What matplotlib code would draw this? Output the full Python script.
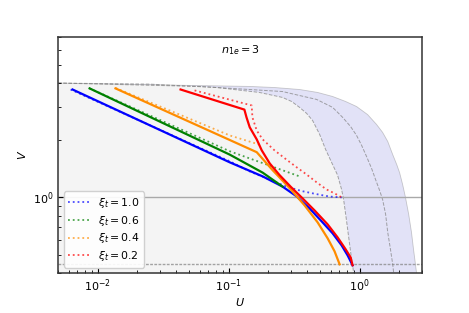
import numpy as np
import matplotlib
matplotlib.use("Agg")
import matplotlib.pyplot as plt

# axis range
U_LIM = (0.005, 3.0)
V_LIM = (0.4, 7.0)
V_LOW = 0.447

# boundaries of the shaded regions
inner_u = [0.005, 0.0249, 0.081, 0.172, 0.258, 0.303, 0.348, 0.394, 0.438, 0.495, 0.550,
           0.611, 0.679, 0.729, 0.755, 0.796, 0.839, 0.869, 0.885, 0.900]
inner_v = [4.0, 3.95, 3.79, 3.57, 3.36, 3.20, 2.98, 2.77, 2.54, 2.15, 1.79,
           1.53, 1.31, 1.10, 0.976, 0.748, 0.566, 0.472, 0.439, 0.4]
mid_u = [0.005, 0.0601, 0.258, 0.348, 0.470, 0.622, 0.742, 0.854, 0.948, 1.036, 1.131,
         1.235, 1.325, 1.42, 1.498, 1.58, 1.64, 1.72, 1.79, 1.82]
mid_v = [4.0, 3.84, 3.61, 3.44, 3.28, 2.98, 2.64, 2.36, 2.12, 1.88, 1.64,
         1.42, 1.24, 1.09, 0.976, 0.814, 0.654, 0.533, 0.444, 0.4]
outer_u = [0.005, 0.0601, 0.145, 0.224, 0.348, 0.478, 0.622, 0.782, 0.948, 1.151, 1.348,
           1.498, 1.64, 1.79, 1.92, 2.02, 2.13, 2.24, 2.37, 2.49, 2.58, 2.67, 2.72]
outer_v = [4.0, 3.88, 3.84, 3.79, 3.70, 3.57, 3.40, 3.20, 3.01, 2.73, 2.42,
           2.20, 1.97, 1.68, 1.49, 1.35, 1.17, 1.0, 0.814, 0.654, 0.533, 0.444, 0.4]

# xi_t = 1.0
blue_u = [0.00644, 0.102, 0.182, 0.258, 0.331, 0.415, 0.513, 0.622, 0.729, 0.810, 0.884]
blue_v = [3.70, 1.53, 1.29, 1.14, 1.012, 0.875, 0.748, 0.647, 0.559, 0.495, 0.439]
blue_dot_u = [0.00622, 0.102, 0.145, 0.277, 0.361, 0.470, 0.590, 0.729]
blue_dot_v = [3.70, 1.55, 1.37, 1.14, 1.08, 1.04, 1.01, 1.0]
# xi_t = 0.6
green_u = [0.00869, 0.102, 0.182, 0.258]
green_v = [3.75, 1.68, 1.35, 1.14]
green_dot_u = [0.00869, 0.102, 0.348]
green_dot_v = [3.75, 1.75, 1.29]
# xi_t = 0.4
orange_u = [0.0137, 0.164, 0.217, 0.292, 0.380, 0.478, 0.570, 0.644, 0.704]
orange_v = [3.75, 1.73, 1.39, 1.12, 0.908, 0.739, 0.609, 0.520, 0.444]
orange_dot_u = [0.0137, 0.102, 0.179]
orange_dot_v = [3.77, 2.12, 1.88]
# xi_t = 0.2
red_u = [0.043, 0.132, 0.137, 0.145, 0.164, 0.179, 0.206, 0.245, 0.297, 0.367, 0.453,
         0.570, 0.679, 0.782, 0.854, 0.884]
red_v = [3.70, 2.90, 2.64, 2.34, 2.02, 1.77, 1.51, 1.31, 1.14, 0.988, 0.854,
         0.721, 0.616, 0.533, 0.483, 0.439]
red_dot_u = [0.055, 0.150, 0.152, 0.164, 0.182, 0.224, 0.277, 0.331, 0.394, 0.470, 0.560,
             0.644, 0.729]
red_dot_v = [3.66, 3.05, 2.64, 2.25, 2.02, 1.77, 1.58, 1.44, 1.32, 1.20, 1.10,
             1.05, 1.0]

xi_labels = ["1.0", "0.6", "0.4", "0.2"]
colors = ["blue", "green", "darkorange", "red"]

plt.rcParams["font.size"] = 8

fig, ax = plt.subplots(figsize=(4.69, 3.13), dpi=100)
fig.subplots_adjust(left=0.124, right=0.9, top=0.882, bottom=0.128)

# shaded regions
ax.fill_betweenx(inner_v, U_LIM[0], inner_u, color="#f4f4f4", lw=0, zorder=0)
ax.fill(np.r_[inner_u, outer_u[::-1]], np.r_[inner_v, outer_v[::-1]],
        color="#e2e2f7", lw=0, zorder=0)
ax.plot(inner_u, inner_v, color="gray", ls="--", lw=0.7, alpha=0.7, zorder=1)
ax.plot(mid_u, mid_v, color="gray", ls="--", lw=0.7, alpha=0.7, zorder=1)
ax.plot(outer_u, outer_v, color="gray", ls="-", lw=0.6, alpha=0.4, zorder=1)

ax.axhline(1.0, color="darkgray", lw=1.0, zorder=1)
ax.axhline(V_LOW, color="gray", ls=(0, (2, 1)), lw=1.0, alpha=0.7, zorder=1)

solids = [(blue_u, blue_v), (green_u, green_v), (orange_u, orange_v), (red_u, red_v)]
dots = [(blue_dot_u, blue_dot_v), (green_dot_u, green_dot_v),
        (orange_dot_u, orange_dot_v), (red_dot_u, red_dot_v)]

for (su, sv), (du, dv), c, lab in zip(solids, dots, colors, xi_labels):
    ax.plot(du, dv, color=c, ls=":", lw=1.3, alpha=0.7, zorder=2,
            label=r"$\xi_t = %s$" % lab)
    ax.plot(su, sv, color=c, lw=1.6, zorder=3)

ax.set_xscale("log")
ax.set_yscale("log")
ax.set_xlim(*U_LIM)
ax.set_ylim(*V_LIM)
ax.set_xlabel(r"$U$", labelpad=1)
ax.set_ylabel(r"$V$", labelpad=3)
ax.tick_params(which="both", direction="in")
for s in ax.spines.values():
    s.set_color("#333333")
    s.set_linewidth(1.1)

ax.text(0.5, 0.975, r"$n_{1e} = 3$", transform=ax.transAxes, ha="center", va="top")
ax.legend(loc="lower left", framealpha=0.9, fontsize=7.8, labelspacing=0.35)

fig.savefig("out.png", dpi=100)
